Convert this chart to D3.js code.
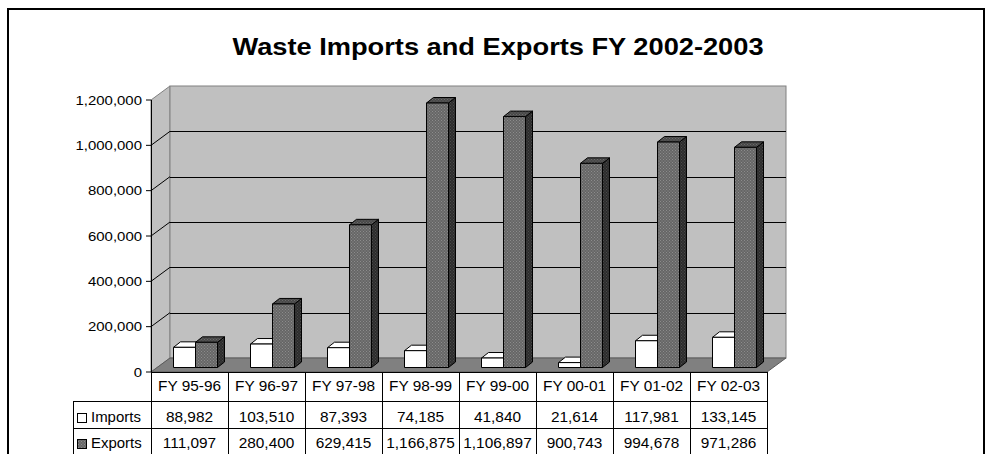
<!DOCTYPE html>
<html>
<head>
<meta charset="utf-8">
<script src="https://cdn.jsdelivr.net/npm/d3@7"></script>
<style>
  html, body { margin: 0; padding: 0; background: #fff; }
  svg { display: block; font-family: 'Liberation Sans', Arial, sans-serif; }
</style>
</head>
<body>
<div id="chart"></div>
<script>
// Chart data
const categories = ['FY 95-96', 'FY 96-97', 'FY 97-98', 'FY 98-99', 'FY 99-00', 'FY 00-01', 'FY 01-02', 'FY 02-03']
const seriesNames = ['Imports', 'Exports']
const importsData = [88982, 103510, 87393, 74185, 41840, 21614, 117981, 133145]
const exportsData = [111097, 280400, 629415, 1166875, 1106897, 900743, 994678, 971286]
const yTicks = [0, 200000, 400000, 600000, 800000, 1000000, 1200000]
const title = 'Waste Imports and Exports FY 2002-2003'

const width = 992
const height = 454

// 3D offsets: whole floor depth and where the bars sit in it
const depth = { dx: 19, dy: -14 }
const barShift = { dx: 6, dy: -4.5 }
const barDepth = { dx: 7, dy: -5.5 }

const fmt = d3.format(',')

const svg = d3.select('#chart')
  .append('svg')
  .attr('width', width)
  .attr('height', height)

const defs = svg.append('defs')

function dotPattern (id, base, dot) {
  const p = defs.append('pattern')
    .attr('id', id)
    .attr('width', 3)
    .attr('height', 3)
    .attr('patternUnits', 'userSpaceOnUse')
  p.append('rect').attr('width', 3).attr('height', 3).attr('fill', base)
  p.append('rect').attr('width', 1).attr('height', 1).attr('fill', dot)
  p.append('rect').attr('x', 1.5).attr('y', 1.5).attr('width', 1).attr('height', 1).attr('fill', dot)
}
dotPattern('expFront', '#666666', '#8c8c8c')
dotPattern('expTop', '#484848', '#6a6a6a')
dotPattern('expSide', '#2c2c2c', '#4a4a4a')

const seriesStyle = {
  Imports: { front: '#ffffff', top: '#ffffff', side: '#ffffff' },
  Exports: { front: 'url(#expFront)', top: 'url(#expTop)', side: 'url(#expSide)' }
}

// Outer frame
svg.append('rect')
  .attr('x', 8)
  .attr('y', 9)
  .attr('width', 976)
  .attr('height', 460)
  .attr('fill', 'none')
  .attr('stroke', '#000')
  .attr('stroke-width', 2)

// The original text is rendered a bit wide, so stretch it horizontally
function stretchedText (parent, x, y, str, size, sx, anchor, weight) {
  return parent.append('text')
    .attr('transform', 'translate(' + x + ',' + y + ') scale(' + sx + ',1)')
    .attr('text-anchor', anchor)
    .attr('font-size', size + 'px')
    .attr('font-weight', weight || 'normal')
    .attr('fill', '#000')
    .text(str)
}

stretchedText(svg, 498, 55, title, 24, 1.135, 'middle', 'bold')

// Scales
const x = d3.scaleBand()
  .domain(categories)
  .range([151, 767])
  .paddingInner(0)
  .paddingOuter(0)

const xs = d3.scaleBand()
  .domain(seriesNames)
  .range([0, x.bandwidth()])
  .paddingInner(0)
  .paddingOuter(0.75)

const y = d3.scaleLinear()
  .domain([0, 1200000])
  .range([372, 100])

const x0 = x.range()[0]
const x1 = x.range()[1]
const yTop = y(1200000)
const yBase = y(0)

function pts (arr) {
  return arr.map(function (p) { return p[0] + ',' + p[1] }).join(' ')
}

const walls = svg.append('g')

// Left side wall
walls.append('polygon')
  .attr('points', pts([[x0, yTop], [x0 + depth.dx, yTop + depth.dy], [x0 + depth.dx, yBase + depth.dy], [x0, yBase]]))
  .attr('fill', '#c0c0c0')
  .attr('stroke', '#808080')

// Back wall
walls.append('rect')
  .attr('x', x0 + depth.dx)
  .attr('y', yTop + depth.dy)
  .attr('width', x1 - x0)
  .attr('height', yBase - yTop)
  .attr('fill', '#c0c0c0')
  .attr('stroke', '#808080')

// Grid lines on back and side walls
const grid = walls.append('g')
  .attr('stroke', '#000')
  .attr('stroke-width', 1)

grid.selectAll('line.back')
  .data(yTicks.slice(1, -1))
  .enter()
  .append('line')
  .attr('class', 'back')
  .attr('x1', x0 + depth.dx)
  .attr('x2', x1 + depth.dx)
  .attr('y1', function (d) { return Math.round(y(d) + depth.dy) + 0.5 })
  .attr('y2', function (d) { return Math.round(y(d) + depth.dy) + 0.5 })

grid.selectAll('line.side')
  .data(yTicks.slice(1, -1))
  .enter()
  .append('line')
  .attr('class', 'side')
  .attr('x1', x0)
  .attr('x2', x0 + depth.dx)
  .attr('y1', function (d) { return y(d) })
  .attr('y2', function (d) { return y(d) + depth.dy })

// Floor
walls.append('polygon')
  .attr('points', pts([[x0, yBase], [x1, yBase], [x1 + depth.dx, yBase + depth.dy], [x0 + depth.dx, yBase + depth.dy]]))
  .attr('fill', '#808080')
  .attr('stroke', '#5a5a5a')

// Bars
const bars = svg.append('g')
  .attr('stroke', '#000')
  .attr('stroke-width', 1)
  .attr('stroke-linejoin', 'round')

categories.forEach(function (cat, i) {
  const values = { Imports: importsData[i], Exports: exportsData[i] }
  seriesNames.forEach(function (s) {
    const bx = x(cat) + xs(s) + barShift.dx
    const bw = xs.bandwidth()
    const by = y(values[s]) + barShift.dy
    const bb = yBase + barShift.dy
    const st = seriesStyle[s]
    const g = bars.append('g')
    g.append('polygon')
      .attr('points', pts([[bx + bw, by], [bx + bw + barDepth.dx, by + barDepth.dy], [bx + bw + barDepth.dx, bb + barDepth.dy], [bx + bw, bb]]))
      .attr('fill', st.side)
    g.append('polygon')
      .attr('points', pts([[bx, by], [bx + barDepth.dx, by + barDepth.dy], [bx + bw + barDepth.dx, by + barDepth.dy], [bx + bw, by]]))
      .attr('fill', st.top)
    g.append('rect')
      .attr('x', bx)
      .attr('y', by)
      .attr('width', bw)
      .attr('height', bb - by)
      .attr('fill', st.front)
  })
})

// Value axis
const axis = svg.append('g')
axis.append('line')
  .attr('x1', x0 + 0.5)
  .attr('x2', x0 + 0.5)
  .attr('y1', yTop)
  .attr('y2', yBase)
  .attr('stroke', '#000')

axis.selectAll('line.tick')
  .data(yTicks)
  .enter()
  .append('line')
  .attr('class', 'tick')
  .attr('x1', x0 - 5)
  .attr('x2', x0)
  .attr('y1', function (d) { return y(d) })
  .attr('y2', function (d) { return y(d) })
  .attr('stroke', '#000')

yTicks.forEach(function (d) {
  stretchedText(axis, x0 - 9, y(d) + 4.5, fmt(d), 13, 1.15, 'end')
})

// Data table under the plot
const rowTop = [yBase, 401, 428]
const legendLeft = 73
const table = svg.append('g')

table.append('line')
  .attr('x1', x0).attr('x2', x1)
  .attr('y1', yBase + 0.5).attr('y2', yBase + 0.5)
  .attr('stroke', '#000')

rowTop.slice(1).forEach(function (ry) {
  table.append('line')
    .attr('x1', legendLeft).attr('x2', x1)
    .attr('y1', ry + 0.5).attr('y2', ry + 0.5)
    .attr('stroke', '#000')
})

categories.concat(['end']).forEach(function (cat, i) {
  const vx = i < categories.length ? x(cat) : x1
  table.append('line')
    .attr('x1', vx + 0.5).attr('x2', vx + 0.5)
    .attr('y1', yBase).attr('y2', height)
    .attr('stroke', '#000')
})

table.append('line')
  .attr('x1', legendLeft + 0.5).attr('x2', legendLeft + 0.5)
  .attr('y1', rowTop[1]).attr('y2', height)
  .attr('stroke', '#000')

categories.forEach(function (cat, i) {
  const cx = x(cat) + x.bandwidth() / 2
  stretchedText(table, cx, rowTop[0] + 19, cat, 14, 1.1, 'middle')
  stretchedText(table, cx, rowTop[1] + 20.5, fmt(importsData[i]), 14, 1.1, 'middle')
  stretchedText(table, cx, rowTop[2] + 19.5, fmt(exportsData[i]), 14, 1.1, 'middle')
})

// Legend keys in the table
seriesNames.forEach(function (s, i) {
  const ry = rowTop[i + 1]
  table.append('rect')
    .attr('x', 77.5)
    .attr('y', ry + 12.5 - i)
    .attr('width', 9)
    .attr('height', 9)
    .attr('fill', seriesStyle[s].front)
    .attr('stroke', '#000')
  stretchedText(table, 91, ry + 20.5 - i, s, 14, 1.07, 'start')
})
</script>
</body>
</html>
